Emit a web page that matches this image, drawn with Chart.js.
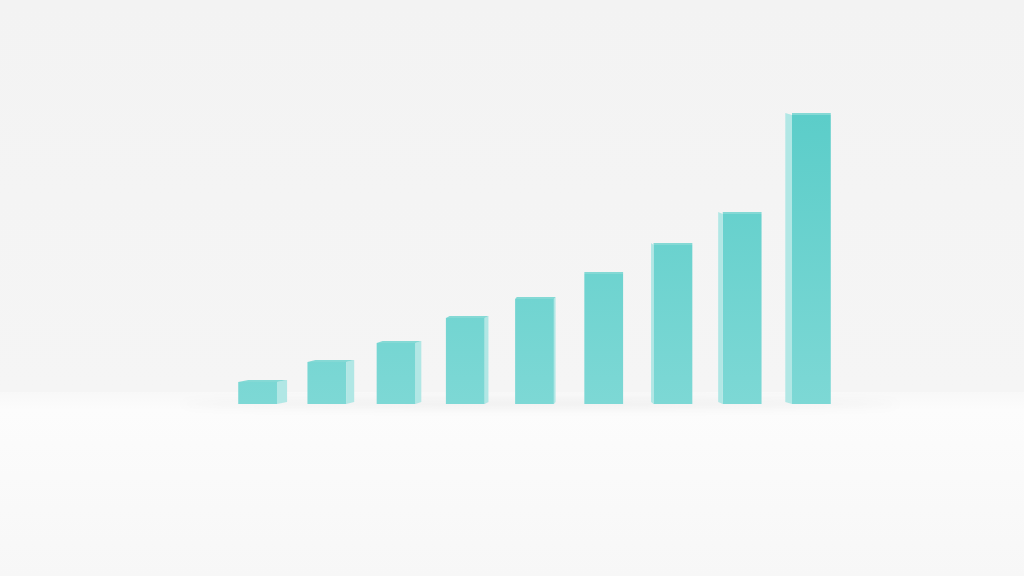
<!DOCTYPE html>
<html>
<head>
<meta charset="utf-8">
<script src="https://cdn.jsdelivr.net/npm/chart.js@4"></script>
<style>
    html, body { margin: 0; padding: 0; background: #f4f4f4; overflow: hidden; }
    canvas { display: block; }
</style>
</head>
<body>
<canvas id="chart" width="1024" height="576"></canvas>
<script>
// Values (relative bar heights)
const categories = ['1', '2', '3', '4', '5', '6', '7', '8', '9'];
const values = [22, 42, 61, 86, 105, 130, 159, 190, 289];
const axisMax = 404;

const faceColor = '#64cfcb';

// Room backdrop: wall + floor
const backdrop = {
    id: 'backdrop',
    beforeDraw(chart) {
        const ctx = chart.ctx;
        const w = chart.width, h = chart.height;
        const horizon = 392;
        let g = ctx.createLinearGradient(0, 0, 0, horizon);
        g.addColorStop(0, '#f3f3f3');
        g.addColorStop(1, '#f5f5f5');
        ctx.fillStyle = g;
        ctx.fillRect(0, 0, w, horizon);
        g = ctx.createLinearGradient(0, horizon, 0, h);
        g.addColorStop(0, '#f8f8f8');
        g.addColorStop(0.1, '#fcfcfc');
        g.addColorStop(1, '#f7f7f7');
        ctx.fillStyle = g;
        ctx.fillRect(0, horizon, w, h - horizon);
        // soft contact shadow along the row of bars
        ctx.save();
        ctx.filter = 'blur(5px)';
        ctx.fillStyle = 'rgba(0,0,0,0.05)';
        ctx.beginPath();
        ctx.ellipse(540, 404, 360, 4, 0, 0, Math.PI * 2);
        ctx.fill();
        ctx.restore();
    }
};

// Side and top faces of each block, taken from the drawn bar elements
const blockFaces = {
    id: 'blockFaces',
    afterDatasetsDraw(chart) {
        const ctx = chart.ctx;
        const meta = chart.getDatasetMeta(0);
        const camX = 590;
        meta.data.forEach(bar => {
            const half = bar.width / 2;
            const left = bar.x - half, right = bar.x + half;
            const side = (camX - bar.x) / 33;
            ctx.save();
            if (Math.abs(side) > 1) {
                const edge = side > 0 ? right : left;
                ctx.beginPath();
                ctx.moveTo(edge, bar.y);
                ctx.lineTo(edge + side, bar.y - 2);
                ctx.lineTo(edge + side, bar.base - 2);
                ctx.lineTo(edge, bar.base);
                ctx.closePath();
                ctx.fillStyle = 'rgba(165, 228, 226, 0.85)';
                ctx.fill();
            }
            // thin top face
            ctx.beginPath();
            ctx.moveTo(left, bar.y);
            ctx.lineTo(left + Math.max(side, 0), bar.y - 2);
            ctx.lineTo(right + Math.max(side, 0), bar.y - 2);
            ctx.lineTo(right, bar.y);
            ctx.closePath();
            ctx.fillStyle = 'rgba(120, 214, 210, 0.9)';
            ctx.fill();
            ctx.restore();
        });
    }
};

const ctx = document.getElementById('chart').getContext('2d');
new Chart(ctx, {
    type: 'bar',
    data: {
        labels: categories,
        datasets: [{
            data: values,
            backgroundColor: (c) => {
                const area = c.chart.chartArea;
                if (!area) return faceColor;
                const g = c.chart.ctx.createLinearGradient(0, 110, 0, area.bottom);
                g.addColorStop(0, '#5bcdc9');
                g.addColorStop(1, '#7dd8d5');
                return g;
            },
            borderWidth: 0,
            barPercentage: 0.56,
            categoryPercentage: 1
        }]
    },
    options: {
        responsive: false,
        devicePixelRatio: 1,
        animation: false,
        layout: { padding: { left: 223, right: 178, top: 0, bottom: 172 } },
        plugins: {
            legend: { display: false },
            tooltip: { enabled: false }
        },
        scales: {
            x: { display: false },
            y: { display: false, min: 0, max: axisMax }
        }
    },
    plugins: [backdrop, blockFaces]
});
</script>
</body>
</html>
